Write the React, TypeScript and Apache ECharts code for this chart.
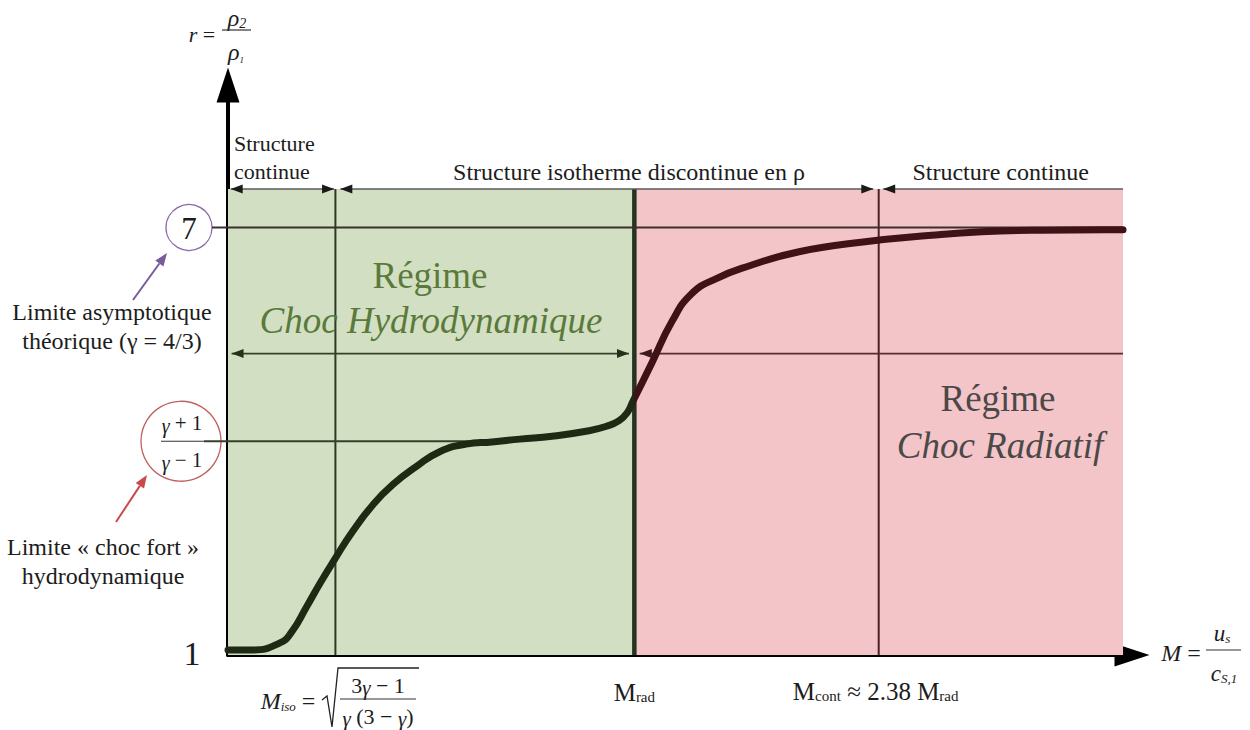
import React, { useEffect, useRef } from 'react';
import * as echarts from 'echarts';

// Key abscissae (schematic Mach-number scale, arbitrary units)
const M_ISO = 12;
const M_RAD = 45.4;
const M_CONT = 72.7;
const X_END = 100;

// Key ordinates (density ratio r)
const R_MIN = 1;
const R_ASYMP = 7;
const R_STRONG = 4;
const R_TOP = 7.54; // structure bracket line
const R_MID = 5.23; // regime bracket line

// Compression-ratio curve r(M)
const curveX = [0, 2.8, 5.8, 7.1, 8.8, 10.3, 11.9, 13.9, 16.2, 18.4, 21.1, 23.6, 26.6, 29.5, 32.6, 36.2, 40.0, 42.3, 43.7, 44.6, 45.2, 47.4, 49.6, 51.8, 54.5, 58.2, 63.8, 71.2, 78.6, 84.2, 89.7, 98, 100];
const curveR = [1.07, 1.07, 1.17, 1.32, 1.68, 2.01, 2.34, 2.73, 3.11, 3.39, 3.65, 3.85, 3.96, 3.99, 4.03, 4.07, 4.14, 4.21, 4.29, 4.40, 4.55, 5.11, 5.68, 6.07, 6.28, 6.46, 6.66, 6.80, 6.89, 6.94, 6.96, 6.97, 6.97];

// Regime regions [xFrom, rFrom, xTo, rTo]
const hydroRegion = [[0, R_MIN, M_RAD, R_TOP]];
const radRegion = [[M_RAD, R_MIN, X_END, R_TOP]];

// Guide segments [x1, r1, x2, r2, arrowAtStart, arrowAtEnd]
const structureBrackets = [
  [0.3, R_TOP, M_ISO - 0.15, R_TOP, 1, 1],
  [M_ISO + 0.55, R_TOP, M_CONT - 0.6, R_TOP, 1, 1],
  [M_CONT + 0.5, R_TOP, X_END, R_TOP, 1, 0],
];
const hydroBracket = [[0.4, R_MID, M_RAD - 0.6, R_MID, 1, 1]];
const radBracket = [[M_RAD + 0.6, R_MID, X_END, R_MID, 1, 0]];
const asymptoteLine = [[0, R_ASYMP, X_END, R_ASYMP, 0, 0]];
const strongShockLine = [[0, R_STRONG, 27, R_STRONG, 0, 0]];
const isoLine = [[M_ISO, R_MIN, M_ISO, R_TOP, 0, 0]];
const radLine = [[M_RAD, R_MIN, M_RAD, R_TOP, 0, 0]];
const contLine = [[M_CONT, R_MIN, M_CONT, R_TOP, 0, 0]];

const topLabels = ['Structure\ncontinue', 'Structure isotherme discontinue en ρ', 'Structure continue'];

const SERIF = 'Liberation Serif, Times New Roman, serif';
const GREEN_BG = '#d3dfc2';
const PINK_BG = '#f3c5c8';

function regionSeries(rows: number[][], color: string) {
  return {
    type: 'custom', z: 1, silent: true, clip: false,
    data: rows,
    renderItem: (_p: any, api: any) => {
      const a = api.coord([api.value(0), api.value(1)]);
      const b = api.coord([api.value(2), api.value(3)]);
      return {
        type: 'rect',
        shape: { x: Math.min(a[0], b[0]), y: Math.min(a[1], b[1]), width: Math.abs(b[0] - a[0]), height: Math.abs(b[1] - a[1]) },
        style: { fill: color },
      };
    },
  };
}

function head(tip: number[], from: number[], color: string) {
  const ang = Math.atan2(tip[1] - from[1], tip[0] - from[0]);
  const L = 12, W = 4.5;
  const bx = tip[0] - L * Math.cos(ang), by = tip[1] - L * Math.sin(ang);
  const px = -Math.sin(ang) * W, py = Math.cos(ang) * W;
  return { type: 'polygon', shape: { points: [tip, [bx + px, by + py], [bx - px, by - py]] }, style: { fill: color } };
}

function guideSeries(rows: number[][], color: string, width: number, headColor?: string) {
  return {
    type: 'custom', z: 2, silent: true, clip: false,
    data: rows,
    renderItem: (_p: any, api: any) => {
      const a = api.coord([api.value(0), api.value(1)]);
      const b = api.coord([api.value(2), api.value(3)]);
      const children: any[] = [
        { type: 'line', shape: { x1: a[0], y1: a[1], x2: b[0], y2: b[1] }, style: { stroke: color, lineWidth: width } },
      ];
      if (api.value(4)) children.push(head(a, b, headColor || color));
      if (api.value(5)) children.push(head(b, a, headColor || color));
      return { type: 'group', children };
    },
  };
}

export default function App() {
  const ref = useRef<HTMLDivElement>(null);

  useEffect(() => {
    const chart = echarts.init(ref.current!, null, { renderer: 'svg' });

    chart.setOption({
      animation: false,
      grid: { left: 228, right: 118, top: 85, bottom: 75 },
      xAxis: {
        type: 'value', min: 0, max: 101,
        axisLine: { onZero: false, lineStyle: { color: '#000', width: 4 }, symbol: ['none', 'triangle'], symbolSize: [23, 35] },
        axisTick: { show: false }, axisLabel: { show: false }, splitLine: { show: false },
      },
      yAxis: {
        type: 'value', min: 1, max: 9, interval: 1,
        axisLine: { show: true, onZero: false, lineStyle: { color: '#000', width: 4 }, symbol: ['none', 'triangle'], symbolSize: [23, 35] },
        axisTick: { show: false }, axisLabel: { show: false }, splitLine: { show: false },
      },
      series: [
        regionSeries(hydroRegion, GREEN_BG),
        regionSeries(radRegion, PINK_BG),
        guideSeries(isoLine, '#2c3a23', 2),
        guideSeries(radLine, '#253420', 4.5),
        guideSeries(contLine, '#4b2127', 2),
        guideSeries(asymptoteLine, '#3b2e2e', 2),
        guideSeries(strongShockLine, '#34402c', 2),
        guideSeries(structureBrackets, '#5a5a5a', 1.6, '#1a1a1a'),
        guideSeries(hydroBracket, '#34422a', 1.8, '#24321c'),
        guideSeries(radBracket, '#5a2a30', 1.8, '#3a1a1e'),
        {
          type: 'line', id: 'curve', z: 5, smooth: 0.5, symbol: 'none', silent: true,
          lineStyle: { width: 7, cap: 'round', join: 'round', color: '#1f2a15' },
          data: curveX.map((x, i) => [x, curveR[i]]),
        },
      ],
    });

    const P = (x: number, y: number) => chart.convertToPixel({ gridIndex: 0 }, [x, y]) as number[];
    const [x0, y1] = P(0, R_MIN);
    const y7 = P(0, R_ASYMP)[1];
    const y4 = P(0, R_STRONG)[1];
    const yTop = P(0, R_TOP)[1];
    const xIso = P(M_ISO, 1)[0];
    const xRad = P(M_RAD, 1)[0];
    const xCont = P(M_CONT, 1)[0];
    const W = chart.getWidth();
    const split = xRad / W;

    const txt = (text: string, x: number, y: number, size: number, extra: any = {}) => ({
      type: 'text', z: 20, silent: true,
      style: { text, x, y, fontSize: size, fontFamily: SERIF, fill: '#1c1c1c', align: 'center', verticalAlign: 'middle', ...extra },
    });
    const hline = (xa: number, xb: number, y: number, color: string, w = 1.2) => ({
      type: 'line', z: 20, silent: true, shape: { x1: xa, y1: y, x2: xb, y2: y }, style: { stroke: color, lineWidth: w },
    });
    const arrow = (xa: number, ya: number, xb: number, yb: number, color: string) => {
      const ang = Math.atan2(yb - ya, xb - xa);
      const L = 13, Wd = 5;
      const bx = xb - L * Math.cos(ang), by = yb - L * Math.sin(ang);
      const px = -Math.sin(ang) * Wd, py = Math.cos(ang) * Wd;
      return [
        { type: 'line', z: 20, silent: true, shape: { x1: xa, y1: ya, x2: bx, y2: by }, style: { stroke: color, lineWidth: 2 } },
        { type: 'polygon', z: 20, silent: true, shape: { points: [[xb, yb], [bx + px, by + py], [bx - px, by - py]] }, style: { fill: color } },
      ];
    };
    const sub = (base: number, s: number, italic = true) => ({
      m: { fontSize: base, fontFamily: SERIF, fontStyle: italic ? 'italic' : 'normal', fill: '#1c1c1c', lineHeight: base + 4, verticalAlign: 'bottom' },
      s: { fontSize: s, fontFamily: SERIF, fontStyle: italic ? 'italic' : 'normal', fill: '#1c1c1c', lineHeight: s, verticalAlign: 'bottom' },
      n: { fontSize: base, fontFamily: SERIF, fill: '#1c1c1c', lineHeight: base + 4, verticalAlign: 'bottom' },
      g: { fontSize: base - 1, fontFamily: SERIF, fontStyle: 'italic', fill: '#1c1c1c', lineHeight: base + 4, verticalAlign: 'bottom' },
    });

    const greenTxt = '#5a7a3b';
    const grayTxt = '#4b4848';

    const graphic: any[] = [
      txt(topLabels[0], x0 + 6, yTop - 32, 22, { align: 'left', lineHeight: 28 }),
      txt(topLabels[1], (xIso + xCont) / 2 + 22, yTop - 17, 24),
      txt(topLabels[2], xCont + 122, yTop - 17, 24),
      txt('Régime', 430, 275, 37, { fill: greenTxt }),
      txt('Choc Hydrodynamique', 431, 320, 37, { fill: greenTxt, fontStyle: 'italic' }),
      txt('Régime', 998, 398, 37, { fill: grayTxt }),
      txt('Choc Radiatif', 1000, 445, 37, { fill: grayTxt, fontStyle: 'italic' }),
      { type: 'circle', z: 20, silent: true, shape: { cx: 189, cy: y7, r: 23 }, style: { fill: 'none', stroke: '#8a6aa8', lineWidth: 1.3 } },
      txt('7', 189, y7 + 1, 31),
      hline(212, x0, y7, '#3b2e2e', 2),
      ...arrow(133, 300, 167, 253, '#7a5b9a'),
      txt('Limite asymptotique\nthéorique (γ = 4/3)', 112, 326, 24, { lineHeight: 29 }),
      { type: 'circle', z: 20, silent: true, shape: { cx: 181, cy: y4, r: 40 }, style: { fill: 'none', stroke: '#c06060', lineWidth: 1.3 } },
      txt('{g|γ} + 1', 182, y4 - 18, 21, { rich: sub(21, 12) }),
      hline(161, 204, y4, '#333', 1.2),
      txt('{g|γ} − 1', 182, y4 + 19, 21, { rich: sub(21, 12) }),
      hline(204, x0, y4, '#34402c', 2),
      ...arrow(116, 522, 147, 475, '#c84a4a'),
      txt('Limite « choc fort »\nhydrodynamique', 103, 561, 24, { lineHeight: 29 }),
      txt('1', 192, y1 - 2, 34),
      txt('{m|r} {n|=}', 202, 32, 22, { rich: sub(22, 12) }),
      txt('{m|ρ}{s|2}', 237, 16, 24, { rich: sub(24, 14) }),
      hline(222, 251, 30, '#333', 1.2),
      txt('{m|ρ}{s|1}', 236, 50, 24, { rich: sub(24, 9) }),
      txt('{m|M} {n|=}', 1181, 651, 24, { rich: sub(24, 12) }),
      txt('{m|u}{s|s}', 1222, 631, 23, { rich: sub(23, 13) }),
      hline(1206, 1241, 650, '#333', 1.2),
      txt('{m|c}{s|S,1}', 1224, 671, 23, { rich: sub(23, 13) }),
      txt('{m|M}{s|iso} {n|=}', 288, 699, 24, { rich: sub(24, 13) }),
      { type: 'polyline', z: 20, silent: true, shape: { points: [[322, 700], [327, 696], [332, 727], [338, 668], [419, 668]] }, style: { fill: 'none', stroke: '#222', lineWidth: 1.3 } },
      txt('3{g|γ} − 1', 378, 685, 22, { rich: sub(22, 12) }),
      hline(340, 416, 699, '#333', 1.2),
      txt('{g|γ} (3 − {g|γ})', 378, 716, 22, { rich: sub(22, 12) }),
      txt('{m|M}{s|rad}', xRad, 690, 25, { rich: sub(25, 15, false) }),
      txt('{m|M}{s|cont}{n| ≈ 2.38 M}{s|rad}', xCont - 3, 689, 25, { rich: sub(25, 15, false) }),
    ];

    chart.setOption({
      series: [{ id: 'curve', lineStyle: {
        color: new echarts.graphic.LinearGradient(0, 0, W, 0, [
          { offset: 0, color: '#1f2a15' }, { offset: split, color: '#1f2a15' },
          { offset: split, color: '#3e1217' }, { offset: 1, color: '#3e1217' },
        ], true),
      } }],
      graphic,
    });

    return () => chart.dispose();
  }, []);

  return <div ref={ref} style={{ position: 'fixed', left: 0, top: 0, width: 1250, height: 730, background: '#fff' }} />;
}
